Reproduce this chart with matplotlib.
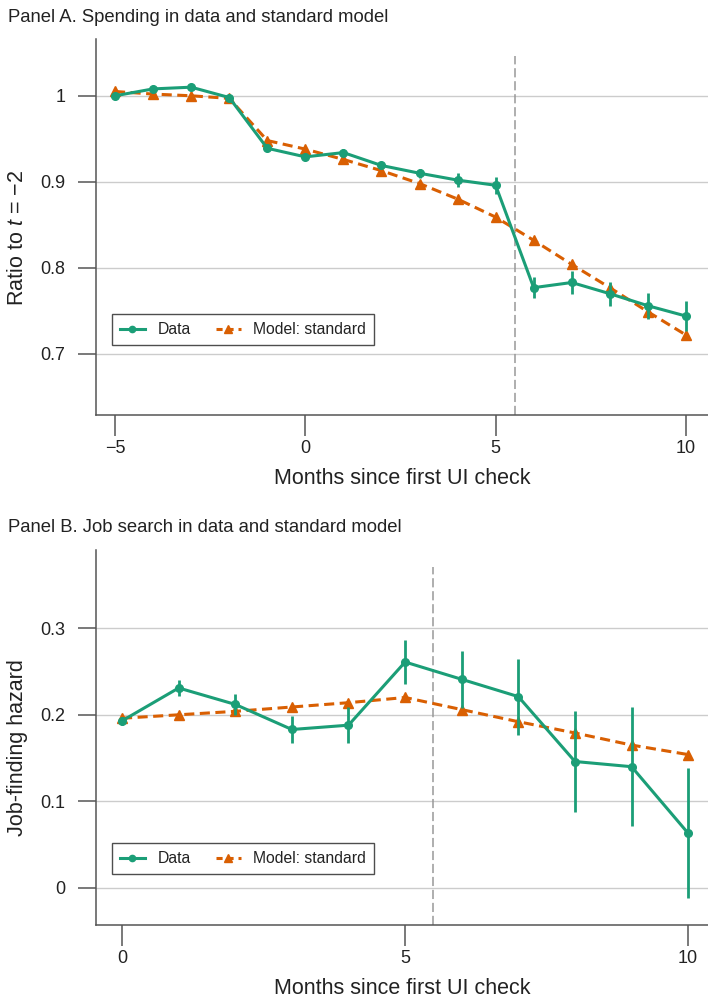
import matplotlib
matplotlib.use("Agg")
import matplotlib.pyplot as plt
from matplotlib.lines import Line2D
import numpy as np

plt.rcParams['font.family'] = ['Liberation Sans', 'DejaVu Sans']
plt.rcParams['mathtext.fontset'] = 'custom'
plt.rcParams['mathtext.rm'] = 'Liberation Sans'
plt.rcParams['mathtext.it'] = 'Liberation Sans:italic'

GREEN = '#1b9e77'
ORANGE = '#d95f02'
TXT = '#222222'

# Panel A data
months_a = [-5, -4, -3, -2, -1, 0, 1, 2, 3, 4, 5, 6, 7, 8, 9, 10]
data_a = [1.000, 1.008, 1.010, 0.998, 0.939, 0.929, 0.934, 0.919, 0.910, 0.902, 0.896,
          0.777, 0.783, 0.770, 0.756, 0.744]
err_a = [0.002, 0.002, 0.002, 0.002, 0.003, 0.003, 0.004, 0.004, 0.005, 0.008, 0.010,
         0.012, 0.013, 0.014, 0.015, 0.017]
model_a = [1.005, 1.002, 1.000, 0.997, 0.948, 0.938, 0.926, 0.913, 0.898, 0.880, 0.859,
           0.832, 0.804, 0.777, 0.749, 0.722]

# Panel B data
months_b = [0, 1, 2, 3, 4, 5, 6, 7, 8, 9, 10]
data_b = [0.193, 0.231, 0.212, 0.183, 0.188, 0.261, 0.241, 0.221, 0.146, 0.140, 0.063]
err_b = [0.005, 0.009, 0.012, 0.016, 0.021, 0.025, 0.033, 0.044, 0.058, 0.069, 0.075]
model_b = [0.196, 0.200, 0.204, 0.209, 0.214, 0.220, 0.206, 0.192, 0.179, 0.165, 0.154]

xticks_a = [-5, 0, 5, 10]
xtick_labels_a = ['\u22125', '0', '5', '10']
yticks_a = [0.7, 0.8, 0.9, 1.0]
ytick_labels_a = ['0.7', '0.8', '0.9', '1']
xticks_b = [0, 5, 10]
xtick_labels_b = ['0', '5', '10']
yticks_b = [0, 0.1, 0.2, 0.3]
ytick_labels_b = ['0', '0.1', '0.2', '0.3']

fig = plt.figure(figsize=(7.08, 9.98), dpi=100)
W, H = 708, 998

def make_ax(left, top, bottom):
    return fig.add_axes([left / W, (H - bottom) / H, 1 - left / W, (bottom - top) / H])

axA = make_ax(96, 39, 415)
axB = make_ax(96, 550, 925)

def style(ax, xticks, xlabels, yticks, ylabels, xlim, ylim, ylabel):
    ax.set_xlim(*xlim)
    ax.set_ylim(*ylim)
    for s in ['top', 'right']:
        ax.spines[s].set_visible(False)
    for s in ['left', 'bottom']:
        ax.spines[s].set_color('#555555')
        ax.spines[s].set_linewidth(1.1)
    ax.set_xticks(xticks)
    ax.set_xticklabels(xlabels)
    ax.set_yticks(yticks)
    ax.set_yticklabels(ylabels)
    ax.tick_params(axis='x', length=15, width=1.1, color='#555555', labelsize=13,
                   labelcolor=TXT, pad=3)
    ax.tick_params(axis='y', length=13, width=1.1, color='#555555', labelsize=13,
                   labelcolor=TXT, pad=9)
    ax.yaxis.grid(True, color='#cccccc', lw=1.0)
    ax.set_axisbelow(True)
    ax.set_xlabel('Months since first UI check', fontsize=15.5, color=TXT, labelpad=8)
    ax.set_ylabel(ylabel, fontsize=15.5, color=TXT, labelpad=10)
    ax.yaxis.set_label_coords(-0.111, 0.472)

def draw(ax, x, d, e, m, legend_y):
    ax.axvline(5.5, ymax=0.955, color='#999999', lw=1.1, ls=(0, (6, 2.5)), zorder=1)
    ax.errorbar(x, d, yerr=e, color=GREEN, lw=2.2, elinewidth=2.0, capsize=0,
                marker='o', markersize=5.5, zorder=3)
    ax.plot(x, m, color=ORANGE, lw=2.2, ls=(0, (3.3, 1.8)), marker='^',
            markersize=6.5, zorder=2)
    handles = [
        Line2D([], [], color=GREEN, lw=2.2, marker='o', markersize=4.5),
        Line2D([], [], color=ORANGE, lw=2.2, ls=(0, (2.0, 1.6)), marker='^', markersize=5.5),
    ]
    leg = ax.legend(handles, ['Data', 'Model: standard'], loc='lower left',
                    bbox_to_anchor=(0.026, legend_y), ncol=2,
                    fontsize=11.3, frameon=True, fancybox=False, edgecolor='#222222',
                    borderaxespad=0, handlelength=1.6, columnspacing=1.6,
                    handletextpad=0.8, borderpad=0.5)
    leg.get_frame().set_linewidth(1.0)
    for t in leg.get_texts():
        t.set_color(TXT)

draw(axA, months_a, data_a, err_a, model_a, 0.186)
style(axA, xticks_a, xtick_labels_a, yticks_a, ytick_labels_a, (-5.5, 10.58),
      (0.629, 1.066), 'Ratio to $t$ = \u22122')
draw(axB, months_b, data_b, err_b, model_b, 0.136)
style(axB, xticks_b, xtick_labels_b, yticks_b, ytick_labels_b, (-0.46, 10.35),
      (-0.043, 0.3905), 'Job-finding hazard')

fig.text(8 / W, 1 - 18 / H, 'Panel A. Spending in data and standard model',
         fontsize=13.3, color=TXT, va='center', ha='left')
fig.text(8 / W, 1 - 528 / H, 'Panel B. Job search in data and standard model',
         fontsize=13.3, color=TXT, va='center', ha='left')

fig.savefig('out.png', dpi=100)
